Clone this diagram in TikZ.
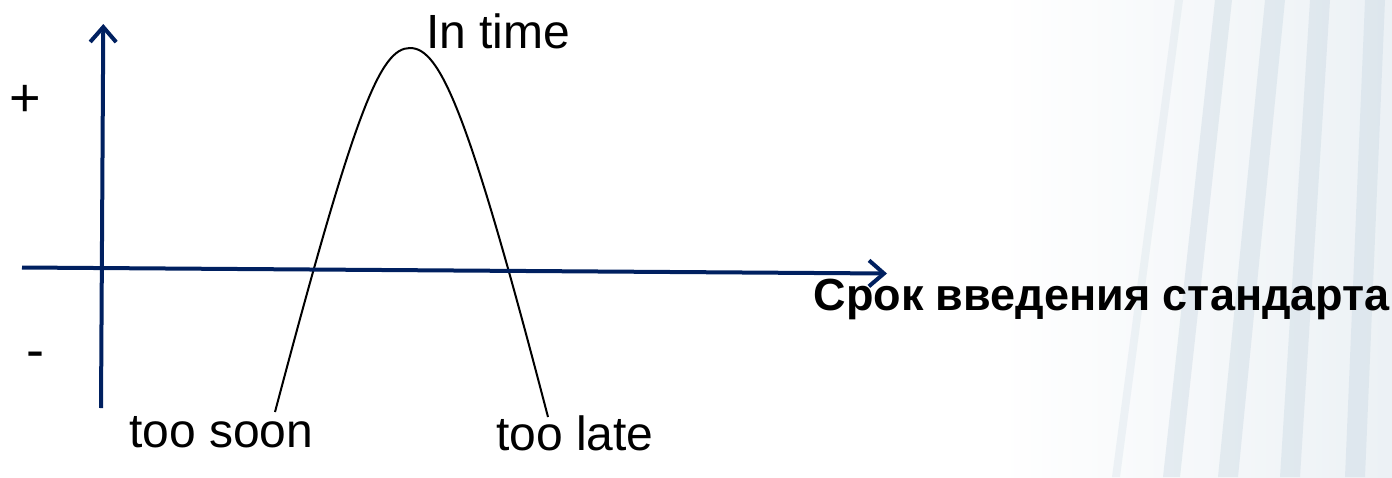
\documentclass[tikz,border=0pt]{standalone}
\usepackage{fontspec}
\setmainfont{Liberation Sans}
\usetikzlibrary{arrows.meta}
\definecolor{axisblue}{RGB}{0,32,96}
\definecolor{bgblue}{RGB}{200,215,226}
\tikzset{
  axisline/.style={draw=axisblue, line width=4pt, -{Straight Barb[length=15pt,width=26pt]}},
  curveline/.style={draw=black, line width=2pt},
  lbl/.style={inner sep=0pt, font=\fontsize{48}{56}\selectfont},
  boldlbl/.style={inner sep=0pt, font=\fontsize{45}{52}\selectfont\bfseries},
  bgbar/.style={fill=bgblue, draw=none, opacity=0.4},
}
\begin{document}
\begin{tikzpicture}[x=1pt,y=-1pt]
\useasboundingbox (0,0) rectangle (1392,477);
% faint background decoration
\shade[left color=white, right color=bgblue!35, draw=none] (1000,0) rectangle (1392,477);
\fill[bgbar] (1215,0) -- (1232,0) -- (1180,477) -- (1163,477) -- cycle;
\fill[bgbar] (1265,0) -- (1285,0) -- (1238,477) -- (1218,477) -- cycle;
\fill[bgbar] (1310,0) -- (1330,0) -- (1300,477) -- (1280,477) -- cycle;
\fill[bgbar] (1365,0) -- (1385,0) -- (1365,477) -- (1345,477) -- cycle;
\fill[bgbar, opacity=0.25] (1175,0) -- (1183,0) -- (1120,477) -- (1112,477) -- cycle;
% coordinates
\coordinate (vb) at (101,408);
\coordinate (vt) at (103.3,24);
\coordinate (hl) at (22,267.5);
\coordinate (hr) at (887,273.5);
\coordinate (c0) at (275,412);
\coordinate (apex) at (410,48);
\coordinate (c1) at (548,417);
% curve
\draw[curveline] (c0) .. controls (355,110) and (380,48) .. (apex)
                      .. controls (440,48) and (468,110) .. (c1);
% axes
\draw[axisline] (vb) -- (vt);
\draw[axisline] (hl) -- (hr);
% labels
\node[lbl, anchor=base west] (intime) at (426,48) {In time};
\node[lbl, anchor=base west] (soon) at (129,447) {too soon};
\node[lbl, anchor=base west] (late) at (496,450) {too late};
\node[lbl, font=\fontsize{54}{60}\selectfont] (plus) at (25,101) {+};
\node[lbl, font=\fontsize{54}{60}\selectfont] (minus) at (35,360) {-};
\node[boldlbl, anchor=base east] (xlabel) at (1390,310) {Срок введения стандарта};
\end{tikzpicture}
\end{document}
